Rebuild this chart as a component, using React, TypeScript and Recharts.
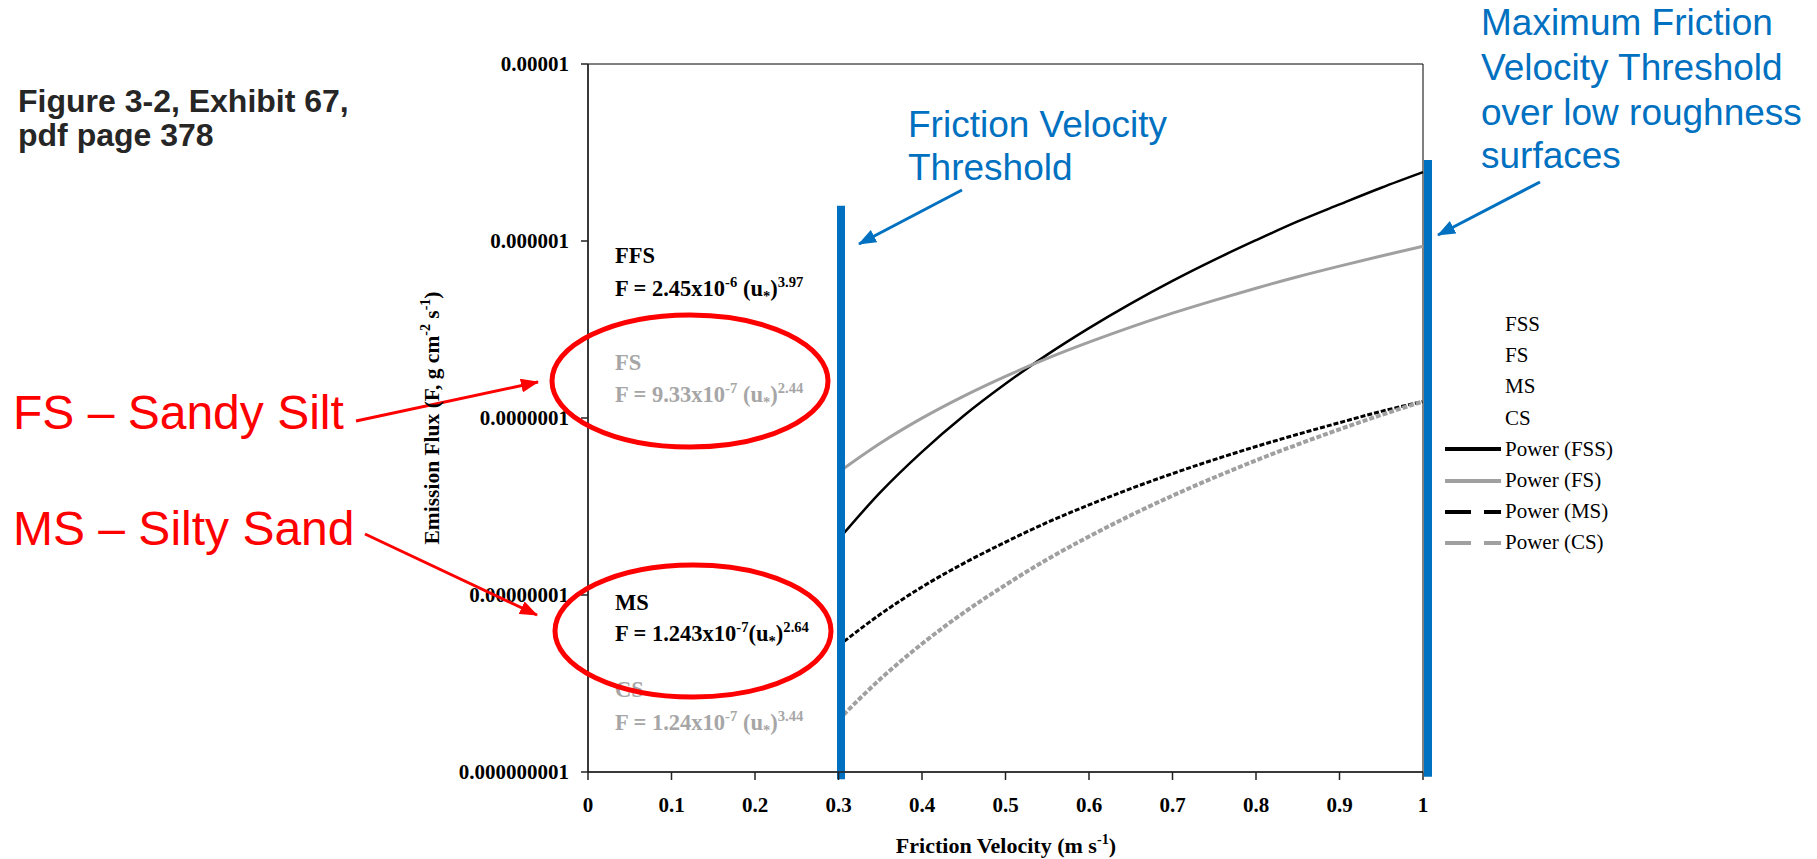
import { LineChart, Line, XAxis, YAxis, ReferenceLine, ReferenceArea, Legend } from 'recharts'

// friction velocity (m/s) and fitted emission flux
const velocity = [0.3, 0.35, 0.4, 0.45, 0.5, 0.55, 0.6, 0.65, 0.7, 0.75, 0.8, 0.85, 0.9, 0.95, 1.0]
const fssFlux = [2.06e-8, 3.8e-8, 6.44e-8, 1.03e-7, 1.56e-7, 2.28e-7, 3.22e-7, 4.43e-7, 5.95e-7, 7.82e-7, 1.01e-6, 1.29e-6, 1.61e-6, 2.0e-6, 2.45e-6]
const fsFlux = [4.94e-8, 7.2e-8, 9.98e-8, 1.33e-7, 1.72e-7, 2.17e-7, 2.68e-7, 3.26e-7, 3.91e-7, 4.62e-7, 5.41e-7, 6.28e-7, 7.21e-7, 8.23e-7, 9.33e-7]
const msFlux = [5.17e-9, 7.78e-9, 1.11e-8, 1.51e-8, 1.99e-8, 2.57e-8, 3.23e-8, 3.99e-8, 4.85e-8, 5.82e-8, 6.9e-8, 8.09e-8, 9.41e-8, 1.09e-7, 1.24e-7]
const csFlux = [1.97e-9, 3.35e-9, 5.3e-9, 7.95e-9, 1.14e-8, 1.59e-8, 2.14e-8, 2.82e-8, 3.64e-8, 4.61e-8, 5.76e-8, 7.09e-8, 8.63e-8, 1.04e-7, 1.24e-7]

const xTicks = [0, 0.1, 0.2, 0.3, 0.4, 0.5, 0.6, 0.7, 0.8, 0.9, 1]
const xTickLabels = ['0', '0.1', '0.2', '0.3', '0.4', '0.5', '0.6', '0.7', '0.8', '0.9', '1']
const yTicks = [1e-9, 1e-8, 1e-7, 1e-6, 1e-5]
const yTickLabels = ['0.000000001', '0.00000001', '0.0000001', '0.000001', '0.00001']

const legendItems = [
    { label: 'FSS' },
    { label: 'FS' },
    { label: 'MS' },
    { label: 'CS' },
    { label: 'Power (FSS)', color: '#000000' },
    { label: 'Power (FS)', color: '#a0a0a0' },
    { label: 'Power (MS)', color: '#000000', dash: '26 13' },
    { label: 'Power (CS)', color: '#a0a0a0', dash: '26 13' },
]

const data = velocity.map((u, i) => ({ u, fss: fssFlux[i], fs: fsFlux[i], ms: msFlux[i], cs: csFlux[i] }))

const serif = '"Liberation Serif", "Times New Roman", serif'
const sans = '"Liberation Sans", Arial, sans-serif'
const blue = '#0070c0'
const grayText = '#a6a6a6'

type Part = { t: string; s?: 'sup' | 'sub' }

function Rich({ x, y, parts, size, fill, ...rest }: any) {
    let cur = 0
    return (
        <text x={x} y={y} fontSize={size} fill={fill} {...rest}>
            {parts.map((p: Part, i: number) => {
                const target = p.s === 'sup' ? -size * 0.42 : p.s === 'sub' ? size * 0.2 : 0
                const dy = target - cur
                cur = target
                return (
                    <tspan key={i} dy={dy} fontSize={p.s ? size * 0.65 : size}>{p.t}</tspan>
                )
            })}
        </text>
    )
}

function LegendBox() {
    return (
        <div style={{ fontFamily: serif, fontSize: 21, color: '#000' }}>
            {legendItems.map((it) => (
                <div key={it.label} style={{ height: 31.2, display: 'flex', alignItems: 'center' }}>
                    <svg width={58} height={8}>
                        {it.color && (
                            <line x1={0} y1={4} x2={56} y2={4} stroke={it.color} strokeWidth={4} strokeDasharray={it.dash} />
                        )}
                    </svg>
                    <span style={{ marginLeft: 2, whiteSpace: 'nowrap' }}>{it.label}</span>
                </div>
            ))}
        </div>
    )
}

function Overlay() {
    const eq = { fontFamily: serif, fontWeight: 'bold' }
    const es = 22.5
    return (
        <svg width={1817} height={859} style={{ position: 'absolute', left: 0, top: 0, pointerEvents: 'none' }}>
            <defs>
                <marker id="headBlue" markerUnits="userSpaceOnUse" markerWidth={18} markerHeight={14} refX={17} refY={7} orient="auto">
                    <path d="M0,0 L18,7 L0,14 z" fill={blue} />
                </marker>
                <marker id="headRed" markerUnits="userSpaceOnUse" markerWidth={18} markerHeight={14} refX={17} refY={7} orient="auto">
                    <path d="M0,0 L18,7 L0,14 z" fill="#ff0000" />
                </marker>
            </defs>

            <g fontFamily={sans} fontWeight="bold" fontSize={32} fill="#262626">
                <text x={18} y={112}>Figure 3-2, Exhibit 67,</text>
                <text x={18} y={146}>pdf page 378</text>
            </g>

            <g fontFamily={sans} fontSize={37} fill={blue}>
                <text x={908} y={137}>Friction Velocity</text>
                <text x={908} y={180}>Threshold</text>
                <text x={1481} y={35}>Maximum Friction</text>
                <text x={1481} y={80}>Velocity Threshold</text>
                <text x={1481} y={125}>over low roughness</text>
                <text x={1481} y={168}>surfaces</text>
            </g>
            <line x1={962} y1={190} x2={859} y2={244} stroke={blue} strokeWidth={3} markerEnd="url(#headBlue)" />
            <line x1={1540} y1={182} x2={1438} y2={235} stroke={blue} strokeWidth={3} markerEnd="url(#headBlue)" />

            <g fontFamily={sans} fontSize={48} fill="#ff0000">
                <text x={13} y={429}>FS – Sandy Silt</text>
                <text x={13} y={545}>MS – Silty Sand</text>
            </g>
            <line x1={356} y1={421} x2={538} y2={382} stroke="#ff0000" strokeWidth={3} markerEnd="url(#headRed)" />
            <line x1={365} y1={534} x2={537} y2={615} stroke="#ff0000" strokeWidth={3} markerEnd="url(#headRed)" />

            <text x={615} y={263} fontSize={es} fill="#000" {...eq}>FFS</text>
            <Rich x={615} y={296} size={es} fill="#000" {...eq}
                parts={[{ t: 'F = 2.45x10' }, { t: '-6', s: 'sup' }, { t: ' (u' }, { t: '*', s: 'sub' }, { t: ')' }, { t: '3.97', s: 'sup' }]} />
            <text x={615} y={370} fontSize={es} fill={grayText} {...eq}>FS</text>
            <Rich x={615} y={402} size={es} fill={grayText} {...eq}
                parts={[{ t: 'F = 9.33x10' }, { t: '-7', s: 'sup' }, { t: ' (u' }, { t: '*', s: 'sub' }, { t: ')' }, { t: '2.44', s: 'sup' }]} />
            <text x={615} y={610} fontSize={es} fill="#000" {...eq}>MS</text>
            <Rich x={615} y={641} size={es} fill="#000" {...eq}
                parts={[{ t: 'F = 1.243x10' }, { t: '-7', s: 'sup' }, { t: '(u' }, { t: '*', s: 'sub' }, { t: ')' }, { t: '2.64', s: 'sup' }]} />
            <text x={615} y={697} fontSize={es} fill={grayText} {...eq}>CS</text>
            <Rich x={615} y={730} size={es} fill={grayText} {...eq}
                parts={[{ t: 'F = 1.24x10' }, { t: '-7', s: 'sup' }, { t: ' (u' }, { t: '*', s: 'sub' }, { t: ')' }, { t: '3.44', s: 'sup' }]} />

            <ellipse cx={690} cy={381} rx={138} ry={66} fill="none" stroke="#ff0000" strokeWidth={5} />
            <ellipse cx={693} cy={631} rx={138} ry={66} fill="none" stroke="#ff0000" strokeWidth={5} />

            <Rich x={1006} y={853} size={22} fill="#000" textAnchor="middle" {...eq}
                parts={[{ t: 'Friction Velocity (m s' }, { t: '-1', s: 'sup' }, { t: ')' }]} />
            <Rich x={0} y={0} size={21.5} fill="#000" textAnchor="middle" transform="translate(439,418) rotate(-90)" {...eq}
                parts={[{ t: 'Emission Flux (F, g cm' }, { t: '-2', s: 'sup' }, { t: ' s' }, { t: '-1', s: 'sup' }, { t: ')' }]} />
        </svg>
    )
}

function App() {
    const tickStyle = { fontFamily: serif, fontWeight: 'bold', fontSize: 21, fill: '#000' }
    return (
        <div style={{ position: 'absolute', left: 0, top: 0, width: 1817, height: 859, background: '#fff' }}>
            <LineChart width={1817} height={859} data={data} margin={{ top: 64, right: 394, bottom: 27, left: 488 }}>
                <XAxis dataKey="u" type="number" domain={[0, 1]} ticks={xTicks} height={60}
                    tickFormatter={(v: number) => xTickLabels[xTicks.indexOf(v)] ?? String(v)}
                    tick={tickStyle} tickSize={8} tickMargin={17}
                    axisLine={{ stroke: '#222', strokeWidth: 1.5 }} tickLine={{ stroke: '#222', strokeWidth: 1.5 }} />
                <YAxis type="number" scale="log" domain={[1e-9, 1e-5]} allowDataOverflow ticks={yTicks} width={100}
                    tickFormatter={(v: number) => yTickLabels[yTicks.indexOf(v)] ?? String(v)}
                    tick={tickStyle} tickSize={7} tickMargin={12}
                    axisLine={{ stroke: '#222', strokeWidth: 1.5 }} tickLine={{ stroke: '#222', strokeWidth: 1.5 }} />
                <ReferenceArea x1={0} x2={1} y1={1e-9} y2={1e-5} fill="none" stroke="#000" strokeWidth={1} ifOverflow="visible" />
                <Line dataKey="fss" name="Power (FSS)" type="monotone" stroke="#000" strokeWidth={2.5} dot={false} isAnimationActive={false} />
                <Line dataKey="fs" name="Power (FS)" type="monotone" stroke="#a0a0a0" strokeWidth={3} dot={false} isAnimationActive={false} />
                <Line dataKey="ms" name="Power (MS)" type="monotone" stroke="#000" strokeWidth={3} strokeDasharray="5 2" dot={false} isAnimationActive={false} />
                <Line dataKey="cs" name="Power (CS)" type="monotone" stroke="#a0a0a0" strokeWidth={4} strokeDasharray="5 2" dot={false} isAnimationActive={false} />
                <ReferenceLine segment={[{ x: 0.303, y: 1.58e-6 }, { x: 0.303, y: 9.1e-10 }]} stroke={blue} strokeWidth={8} ifOverflow="visible" />
                <ReferenceLine segment={[{ x: 1.006, y: 2.87e-6 }, { x: 1.006, y: 9.4e-10 }]} stroke={blue} strokeWidth={8} ifOverflow="visible" />
                <Legend layout="vertical" align="center" verticalAlign="middle" content={() => <LegendBox />}
                    wrapperStyle={{ left: 1445, top: 309, width: 250 }} />
            </LineChart>
            <Overlay />
        </div>
    )
}

export default App
